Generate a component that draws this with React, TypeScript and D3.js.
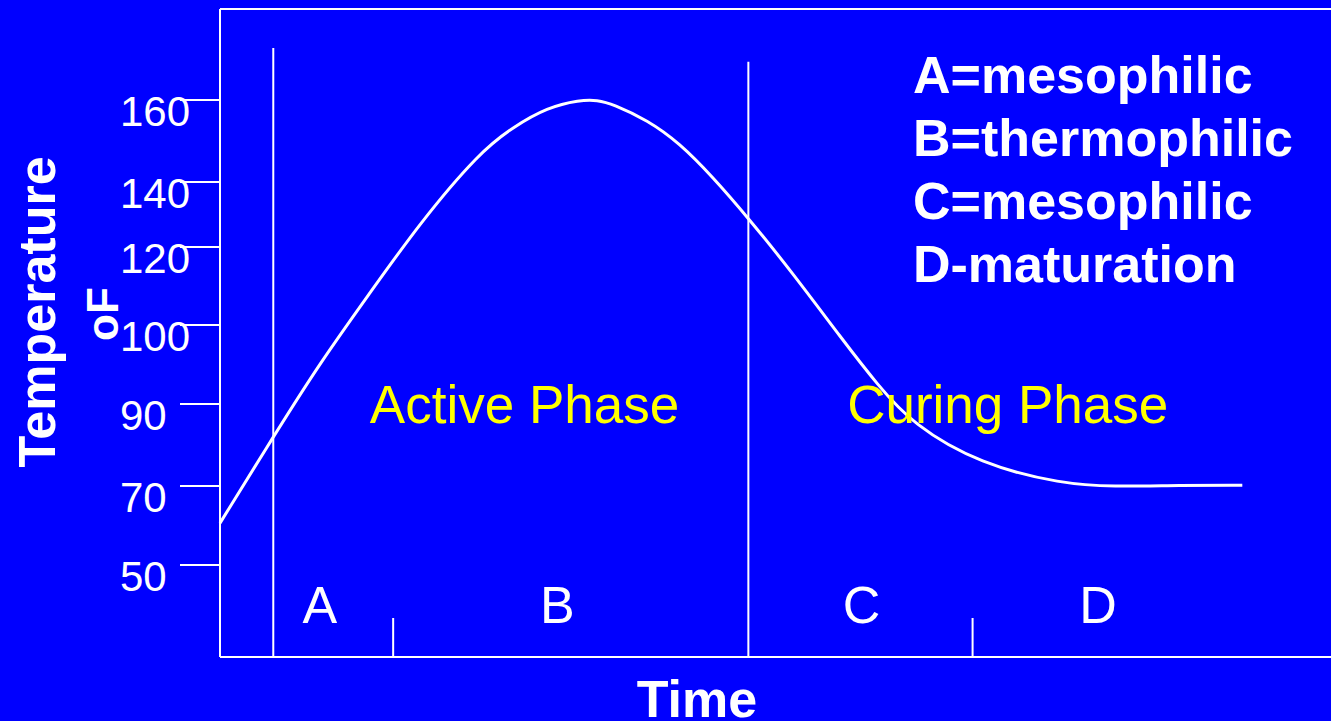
import React from "react";
import * as d3 from "d3";

// ---- data ----
const yTicks = [50, 70, 90, 100, 120, 140, 160];
const time = [0, 4.8, 9.0, 13.5, 18.0, 23.4, 26.4, 29.5, 32.4, 34.0, 35.4, 38.5, 41.4, 44.4, 47.6, 51.6, 56.1, 59.2, 62.4, 68.5, 75.9, 80.4, 86.5, 92.1];
const temp = [60.6, 82, 95.2, 108.2, 127.4, 147.3, 153.4, 158.2, 160.0, 160.0, 159.0, 155.1, 149.5, 141.2, 128.9, 113.3, 98.1, 92.5, 85.0, 75.3, 70.5, 69.8, 70.2, 70.2];
const phaseLetters = ["A", "B", "C", "D"];
const phaseLetterTime = [9.0, 30.4, 57.8, 79.1];
const bigDividers = [4.8, 47.6];
const bigDividerTopTemp = [172.7, 169.3];
const smallDividers = [15.6, 67.8];
const phaseNames = ["Active Phase", "Curing Phase"];
const phaseNameTime = [13.5, 56.5];
const legendLines = ["A=mesophilic", "B=thermophilic", "C=mesophilic", "D-maturation"];

const W = 1331;
const H = 721;
const BLUE = "#0000FF";
const FONT = "'Liberation Sans', Arial, Helvetica, sans-serif";

export default function App() {
  const x = d3.scaleLinear().domain([0, 100]).range([220, 1330]);
  // the original axis is not evenly spaced: piecewise mapping of tick values
  const y = d3.scaleLinear().domain(yTicks).range([565, 486, 404, 325, 247, 182, 100]);

  const plotLeft = 220;
  const plotTop = 9;
  const plotBottom = 657;

  // values above 160 continue the last axis segment
  const yTop = (v: number) => y(140) + ((v - 140) / 20) * (y(160) - y(140));

  const pts = time.map((t, i) => [x(t), y(temp[i])] as [number, number]);
  const line = d3.line().curve(d3.curveBasis);
  const path = line(pts) || "";

  return (
    <div style={{ position: "fixed", left: 0, top: 0, width: W, height: H, background: BLUE }}>
      <svg width={W} height={H} style={{ display: "block" }} fontFamily={FONT}>
        <rect x={0} y={0} width={W} height={H} fill={BLUE} />
        {/* frame */}
        <line x1={plotLeft} y1={plotTop} x2={W} y2={plotTop} stroke="white" strokeWidth={2} />
        <line x1={plotLeft} y1={plotTop} x2={plotLeft} y2={plotBottom} stroke="white" strokeWidth={2} />
        <line x1={plotLeft} y1={plotBottom} x2={W} y2={plotBottom} stroke="white" strokeWidth={2} />

        {/* y ticks */}
        {yTicks.map((v) => (
          <g key={v}>
            <text x={120} y={y(v) + 26} fill="white" fontSize={42}>
              {v}
            </text>
            <line x1={180} x2={plotLeft} y1={y(v)} y2={y(v)} stroke="white" strokeWidth={2} />
          </g>
        ))}

        {/* dividers */}
        {bigDividers.map((t, i) => (
          <line key={"b" + i} x1={x(t)} x2={x(t)} y1={yTop(bigDividerTopTemp[i])} y2={plotBottom} stroke="white" strokeWidth={2} />
        ))}
        {smallDividers.map((t, i) => (
          <line key={"s" + i} x1={x(t)} x2={x(t)} y1={618} y2={plotBottom} stroke="white" strokeWidth={2} />
        ))}

        {/* curve */}
        <path d={path} fill="none" stroke="white" strokeWidth={3} />

        {/* phase names */}
        {phaseNames.map((n, i) => (
          <text key={n} x={x(phaseNameTime[i])} y={423} fill="#FFFF00" fontSize={53}>
            {n}
          </text>
        ))}

        {/* phase letters */}
        {phaseLetters.map((l, i) => (
          <text key={l} x={x(phaseLetterTime[i])} y={623} fill="white" fontSize={52} textAnchor="middle">
            {l}
          </text>
        ))}

        {/* legend */}
        {legendLines.map((l, i) => (
          <text key={i} x={913} y={93 + i * 63} fill="white" fontSize={52} fontWeight="bold">
            {l}
          </text>
        ))}

        {/* axis titles */}
        <text x={697} y={717} fill="white" fontSize={52} fontWeight="bold" textAnchor="middle">
          Time
        </text>
        <text transform="translate(55,312) rotate(-90)" fill="white" fontSize={52} fontWeight="bold" textAnchor="middle">
          Temperature
        </text>
        <text transform="translate(118,314) rotate(-90)" fill="white" fontSize={44} fontWeight="bold" textAnchor="middle">
          oF
        </text>
      </svg>
    </div>
  );
}
